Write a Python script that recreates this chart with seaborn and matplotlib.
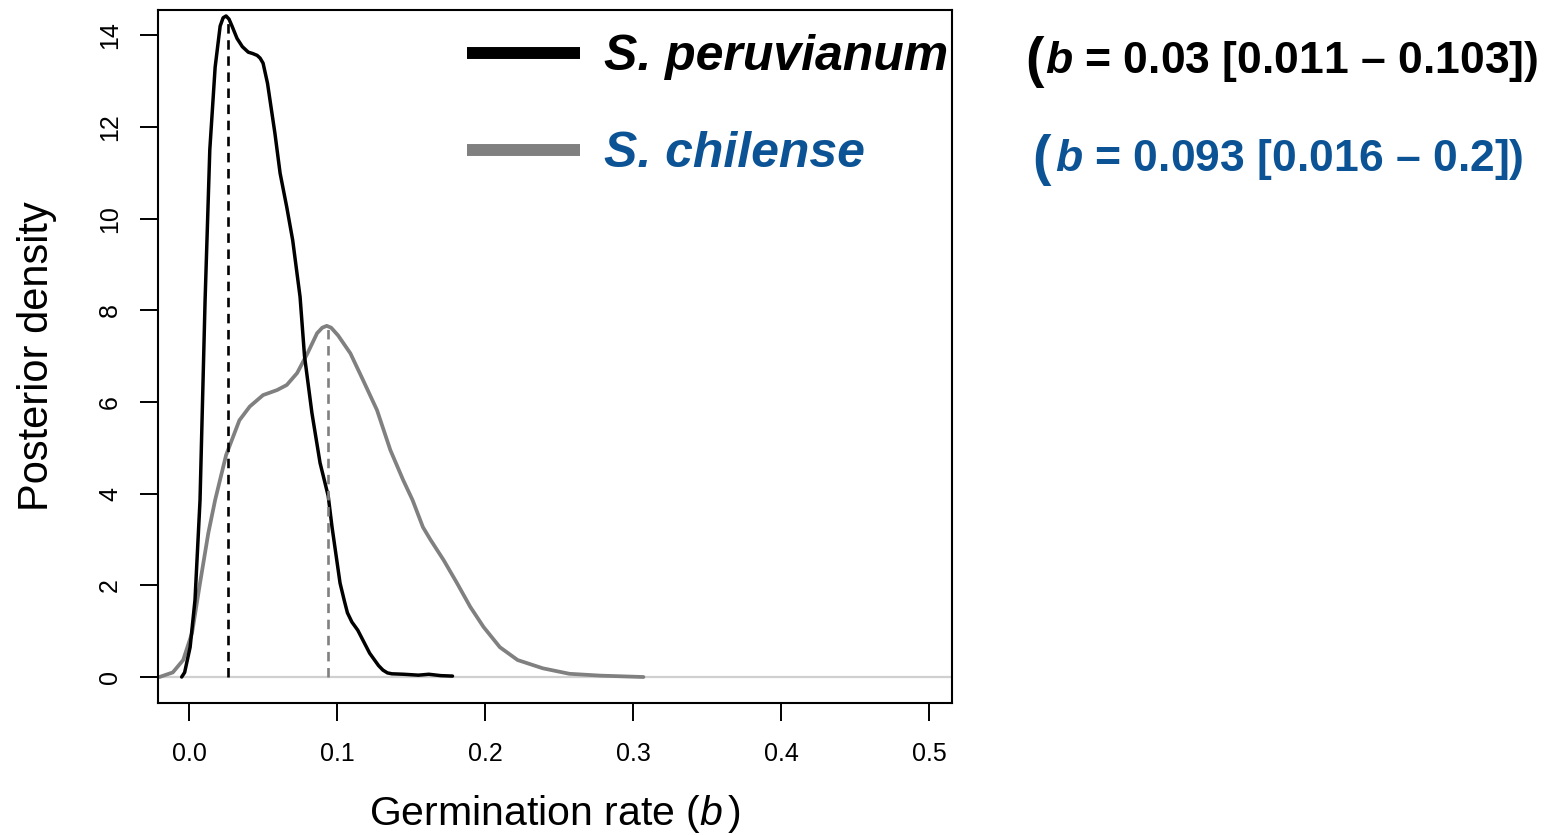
import numpy as np
import pandas as pd
import matplotlib
matplotlib.use("Agg")
import matplotlib.pyplot as plt
from matplotlib.lines import Line2D
import seaborn as sns

# ---------------- data ----------------
peru_x = [-0.005, -0.003, 0.0007, 0.004, 0.0074, 0.0108, 0.014, 0.0176, 0.021, 0.023,
          0.025, 0.027, 0.029, 0.0324, 0.036, 0.040, 0.043, 0.046, 0.048, 0.050,
          0.053, 0.058, 0.0615, 0.066, 0.070, 0.075, 0.078, 0.083, 0.0885, 0.094,
          0.0966, 0.102, 0.105, 0.107, 0.110, 0.114, 0.122, 0.128, 0.131, 0.134,
          0.137, 0.145, 0.155, 0.162, 0.170, 0.178]
peru_y = [0.0, 0.1, 0.65, 1.68, 3.86, 8.2, 11.5, 13.3, 14.2, 14.38,
          14.42, 14.35, 14.2, 13.93, 13.75, 13.63, 13.6, 13.56, 13.5, 13.39,
          12.95, 11.86, 10.99, 10.25, 9.53, 8.29, 7.0, 5.76, 4.67, 3.95,
          3.27, 2.05, 1.65, 1.40, 1.2, 1.02, 0.52, 0.25, 0.15, 0.09,
          0.07, 0.06, 0.04, 0.06, 0.03, 0.02]

chil_x = [-0.02, -0.011, -0.004, 0.002, 0.0074, 0.013, 0.0176, 0.025, 0.034, 0.041,
          0.050, 0.0595, 0.066, 0.073, 0.080, 0.0865, 0.090, 0.093, 0.096, 0.1007,
          0.109, 0.1175, 0.127, 0.136, 0.1446, 0.151, 0.158, 0.163, 0.172, 0.181,
          0.19, 0.199, 0.21, 0.222, 0.239, 0.257, 0.278, 0.307]
chil_y = [0.0, 0.1, 0.37, 0.96, 2.05, 3.14, 3.86, 4.84, 5.6, 5.9,
          6.15, 6.26, 6.37, 6.63, 7.06, 7.5, 7.62, 7.66, 7.62, 7.45,
          7.06, 6.48, 5.82, 4.95, 4.30, 3.86, 3.27, 3.0, 2.55, 2.05,
          1.53, 1.09, 0.65, 0.37, 0.19, 0.07, 0.03, 0.0]

species = ["S. peruvianum", "S. chilense"]
mode_x = [0.026, 0.094]
mode_y = [14.4, 7.65]
annot = ["0.03 [0.011 \u2013 0.103])", "0.093 [0.016 \u2013 0.2])"]

x_ticks = [0.0, 0.1, 0.2, 0.3, 0.4, 0.5]
x_tick_labels = ["0.0", "0.1", "0.2", "0.3", "0.4", "0.5"]
y_ticks = [0, 2, 4, 6, 8, 10, 12, 14]

# ---------------- style ----------------
sns.set_style("ticks")
plt.rcParams["font.family"] = ["Liberation Sans", "DejaVu Sans"]
plt.rcParams["text.color"] = "black"
plt.rcParams["axes.labelcolor"] = "black"
plt.rcParams["mathtext.fontset"] = "custom"
plt.rcParams["mathtext.rm"] = "Liberation Sans"
plt.rcParams["mathtext.it"] = "Liberation Sans:italic"
plt.rcParams["mathtext.bf"] = "Liberation Sans:bold"
plt.rcParams["mathtext.bfit"] = "Liberation Sans:bold:italic"

black = "#000000"
grey = "#808080"
blue = "#0B5394"
colors = [black, grey]

W, H = 1556, 835
fig = plt.figure(figsize=(W / 100, H / 100), dpi=100)
ax = fig.add_axes([158 / W, 1 - 703 / H, (952 - 158) / W, (703 - 10) / H])

# zero line
ax.axhline(0, color="#D0D0D0", lw=1.6, zorder=1)

df = pd.concat([
    pd.DataFrame({"x": peru_x, "y": peru_y, "sp": species[0]}),
    pd.DataFrame({"x": chil_x, "y": chil_y, "sp": species[1]}),
])
sns.lineplot(data=df[df.sp == species[1]], x="x", y="y", color=grey, lw=2.7,
             sort=False, estimator=None, ax=ax, zorder=2)
sns.lineplot(data=df[df.sp == species[0]], x="x", y="y", color=black, lw=2.5,
             sort=False, estimator=None, ax=ax, zorder=3)
for ln in ax.get_lines():
    ln.set_solid_joinstyle("round")
    ln.set_solid_capstyle("round")

# mode lines
for mx, my, c in zip(mode_x, mode_y, colors):
    ax.vlines(mx, 0, my, colors=c, lw=1.9, linestyles=(0, (3.6, 2.5)), zorder=4)

ax.set_xlim(-0.021, 0.5155)
ax.set_ylim(-0.567, 14.55)
ax.set_xticks(x_ticks)
ax.set_xticklabels(x_tick_labels)
ax.set_yticks(y_ticks)
ax.set_yticklabels([str(v) for v in y_ticks], rotation=90, va="center")
ax.tick_params(axis="both", direction="out", length=13, width=1.4,
               labelsize=18, colors="black", pad=15)
ax.tick_params(axis="y", pad=13)
for s in ax.spines.values():
    s.set_visible(True)
    s.set_linewidth(1.5)
    s.set_color("black")

ax.set_xlabel("Germination rate ($b\\,$)", fontsize=29.5, color="black")
ax.set_ylabel("Posterior density", fontsize=30, color="black")
ax.xaxis.set_label_coords(0.5, -0.13)
ax.yaxis.set_label_coords(-0.127, 0.5)

# legend
handles = [Line2D([], [], color=c, lw=8.6, solid_capstyle="butt") for c in colors]
leg = ax.legend(handles, species, loc="upper left",
                bbox_to_anchor=(467 / W, 1 - 34 / H), bbox_transform=fig.transFigure,
                frameon=False, borderpad=0, borderaxespad=0,
                handlelength=2.25, handletextpad=0.48, labelspacing=1.02,
                prop={"family": "Liberation Sans", "weight": "bold",
                      "style": "italic", "size": 36})
for t, c in zip(leg.get_texts(), [black, blue]):
    t.set_color(c)

# annotations at right
paren_x = [1025, 1032]
body_x = [1045, 1055]
base_y = [73, 171]
for px, bx, by, txt, c in zip(paren_x, body_x, base_y, annot, [black, blue]):
    fig.text(px / W, 1 - (by + 3) / H, "(", fontsize=40, fontweight="bold",
             color=c, ha="left", va="baseline")
    fig.text(bx / W, 1 - by / H, "$\\mathbfit{b}$ = " + txt, fontsize=32,
             fontweight="bold", color=c, ha="left", va="baseline")

fig.savefig("out.png", dpi=100)
